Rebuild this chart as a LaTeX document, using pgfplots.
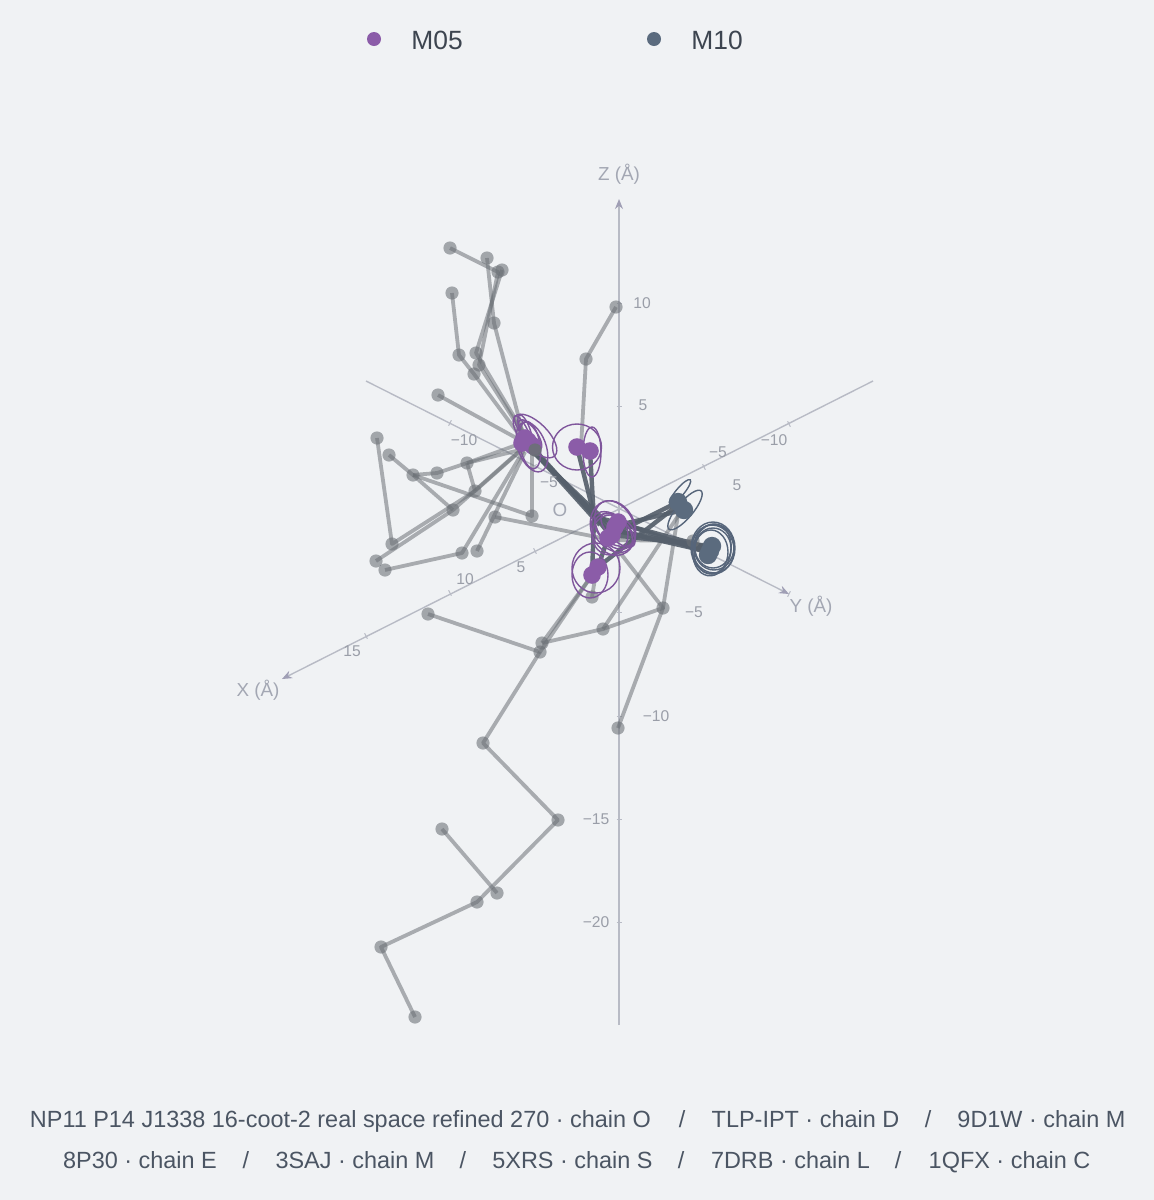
\documentclass[border=0pt]{standalone}
\usepackage{pgfplots}
\pgfplotsset{compat=1.18}
\usepackage{fontspec}
\setmainfont{Liberation Sans}
\usetikzlibrary{arrows.meta}
\definecolor{bg}{HTML}{F0F2F4}
\definecolor{pur}{HTML}{8B5CA8}
\definecolor{purl}{HTML}{7F569C}
\definecolor{blu}{HTML}{5B6B7E}
\definecolor{bll}{HTML}{56657A}
\definecolor{dk}{HTML}{56606C}
\definecolor{gr}{HTML}{6B7076}
\definecolor{axl}{HTML}{B8BBC5}
\definecolor{axt}{HTML}{A3A7B3}
\definecolor{tk}{HTML}{9A9EA8}
\definecolor{arr}{HTML}{A09FB5}
\definecolor{leg}{HTML}{3D4550}
\definecolor{bot}{HTML}{4B5563}
\pgfplotsset{
 gl/.style={no marks,color=gr,opacity=.54,line width=1.9pt,line join=round},
 dl/.style={no marks,color=dk,opacity=.92,line width=2.2pt,line join=round},
 axa/.style={no marks,color=axl,line width=.7pt,-{Stealth[length=5pt,width=4pt,color=arr]}},
 tick/.style={no marks,color=axl,line width=.5pt},
 ell/.style={only marks,scatter,mark=*,mark size=0pt,mark options={draw opacity=0,fill opacity=0},
  visualization depends on={\thisrow{a}\as\ea},
  visualization depends on={\thisrow{b}\as\eb},
  visualization depends on={\thisrow{t}\as\et},
  scatter/@pre marker code/.code={\pgfscope\pgfsetstrokeopacity{1}\pgfsetlinewidth{.7pt}\pgfsetstrokecolor{#1}%
   \pgfpathellipse{\pgfpointorigin}{\pgfpointpolar{\et}{\ea*0.5pt}}{\pgfpointpolar{\et+90}{\eb*0.5pt}}\pgfusepath{stroke}\endpgfscope},
  scatter/@post marker code/.code={}},
}
\newcommand{\tl}[3]{\node[inner sep=0pt,text=tk,font=\fontsize{7.8}{9}\selectfont] at (axis cs:#1,#2) {#3};}
\newcommand{\al}[3]{\node[inner sep=0pt,text=axt,font=\fontsize{9.4}{11}\selectfont] at (axis cs:#1,#2) {#3};}
\newcommand{\bt}[3]{\node[inner sep=0pt,anchor=base,text=bot,font=\fontsize{11.72}{13}\selectfont] at (axis cs:#1,#2) {#3};}
\begin{document}
\begin{tikzpicture}
\begin{axis}[scale only axis,width=577pt,height=600pt,xmin=0,xmax=1154,ymin=0,ymax=1200,y dir=reverse,
 axis line style={draw=none},ticks=none,axis background/.style={fill=bg}]
% axes
\addplot[axa] coordinates {(619,1025) (619,199)};
\addplot[axa] coordinates {(873,381) (282,679)};
\addplot[axa] coordinates {(366,381) (789,594)};
% ticks
\addplot[tick] coordinates {(616.5,303) (621.5,303)};
\addplot[tick] coordinates {(616.5,406) (621.5,406)};
\addplot[tick] coordinates {(616.5,612) (621.5,612)};
\addplot[tick] coordinates {(616.5,716) (621.5,716)};
\addplot[tick] coordinates {(616.5,819) (621.5,819)};
\addplot[tick] coordinates {(616.5,922) (621.5,922)};
\addplot[tick] coordinates {(364.6,633.3) (367.4,638.7)};
\addplot[tick] coordinates {(448.6,590.3) (451.4,595.7)};
\addplot[tick] coordinates {(533.6,548.3) (536.4,553.7)};
\addplot[tick] coordinates {(702.6,464.3) (705.4,469.7)};
\addplot[tick] coordinates {(787.6,421.3) (790.4,426.7)};
\addplot[tick] coordinates {(451.4,420.3) (448.6,425.7)};
\addplot[tick] coordinates {(536.4,464.3) (533.6,469.7)};
\addplot[tick] coordinates {(705.4,548.3) (702.6,553.7)};
\addplot[tick] coordinates {(790.4,591.3) (787.6,596.7)};
% grey chains
\addplot[gl] coordinates {(450,248) (498,272) (479,365) (527,440)};
\addplot[gl] coordinates {(487,258) (494,323) (522,430)};
\addplot[gl] coordinates {(502,270) (476,353) (525,435)};
\addplot[gl] coordinates {(452,293) (459,355) (474,374) (523,440)};
\addplot[gl] coordinates {(438,395) (520,440)};
\addplot[gl] coordinates {(616,307) (586,359) (581,447)};
\addplot[gl] coordinates {(377,438) (392,544) (475,491) (527,445)};
\addplot[gl] coordinates {(376,561) (453,510) (524,447)};
\addplot[gl] coordinates {(389,455) (413,475) (453,510)};
\addplot[gl] coordinates {(413,475) (532,516) (532,450)};
\addplot[gl] coordinates {(413,475) (437,473) (467,463) (522,443)};
\addplot[gl] coordinates {(467,463) (528,448)};
\addplot[gl] coordinates {(467,463) (475,491)};
\addplot[gl] coordinates {(385,570) (462,553) (524,450)};
\addplot[gl] coordinates {(477,551) (525,452)};
\addplot[gl] coordinates {(495,517) (612,540)};
\addplot[gl] coordinates {(428,614) (540,652) (592,575)};
\addplot[gl] coordinates {(592,597) (598,560)};
\addplot[gl] coordinates {(540,652) (483,743) (558,820) (477,902) (381,947) (415,1017)};
\addplot[gl] coordinates {(442,829) (497,893)};
\addplot[gl] coordinates {(542,643) (603,629) (663,608) (618,550)};
\addplot[gl] coordinates {(618,728) (663,608) (678,515)};
\addplot[gl] coordinates {(603,629) (680,513)};
\addplot[gl] coordinates {(612,540) (693,541)};
\addplot[gl] coordinates {(542,643) (596,570)};
% grey nodes
\addplot[only marks,mark=*,mark size=3.3pt,mark options={draw opacity=0,line width=0pt,fill=gr,fill opacity=.58}] coordinates {
(450,248) (487,258) (498,272) (502,270) (494,323) (452,293) (459,355) (476,353) (479,365) (474,374)
(438,395) (616,307) (586,359) (377,438) (392,544) (389,455) (413,475) (437,473) (467,463) (475,491)
(453,510) (532,516) (495,517) (462,553) (477,551) (376,561) (385,570) (428,614) (540,652) (542,643)
(603,629) (663,608) (592,597) (693,541) (483,743) (558,820) (497,893) (477,902) (442,829) (381,947)
(415,1017) (618,728)};
% dark bundles
\addplot[dl] coordinates {(535,450) (596,518)};
\addplot[dl] coordinates {(530,447) (610,530)};
\addplot[dl] coordinates {(533,452) (620,535)};
\addplot[dl] coordinates {(528,445) (600,525)};
\addplot[dl] coordinates {(577,447) (594,515) (610,535)};
\addplot[dl] coordinates {(590,451) (594,520) (592,575)};
\addplot[dl] coordinates {(596,517) (710,548)};
\addplot[dl] coordinates {(612,530) (710,548)};
\addplot[dl] coordinates {(618,522) (708,553)};
\addplot[dl] coordinates {(612,535) (710,546)};
\addplot[dl] coordinates {(605,528) (710,552)};
\addplot[dl] coordinates {(612,535) (678,502)};
\addplot[dl] coordinates {(618,525) (684,510)};
\addplot[dl] coordinates {(598,567) (678,505)};
\addplot[dl] coordinates {(608,538) (598,567)};
% purple ellipses
\addplot[ell=purl] table {
x y a b t
577 447 24.5 23 0
592 452 9 25 0
535 436 28 13 -45
532 447 26 14 -70
522 428 14 4 -60
525 430 16 5 -70
530 435 18 7 -55
530 445 24 10 -80
615 525 26 18 -60
612 532 24 16 -45
615 530 22 14 -30
610 535 18 20 0
613 528 28 22 -70
618 530 22 10 -45
596 568 24 25 0
590 575 18 23 0
};
% blue ellipses
\addplot[ell=bll] table {
x y a b t
680 492 16 4 50
685 510 25 8 50
713 548 22 26 0
714 547 20 23 0
713 549 21 24 10
712 550 19 26 -10
713 548 18 20 0
711 552 17 22 0
};
% node clusters
\addplot[only marks,mark=*,mark size=4.4pt,mark options={draw opacity=0,line width=0pt,fill=pur}] coordinates {
(522,443) (528,441) (533,446) (525,438) (577,447) (590,451) (618,522) (615,527) (612,535) (608,538) (592,575) (598,567)};
\addplot[only marks,mark=*,mark size=4.6pt,mark options={draw opacity=0,line width=0pt,fill=blu}] coordinates {
(678,502) (684,510) (712,546) (710,551) (708,555)};
\addplot[only marks,mark=*,mark size=3.3pt,mark options={draw opacity=0,line width=0pt,fill=gr,fill opacity=.9}] coordinates {(535,450)};
% legend
\addplot[only marks,mark=*,mark size=3.5pt,mark options={draw opacity=0,line width=0pt,fill=pur}] coordinates {(374,39)};
\addplot[only marks,mark=*,mark size=3.5pt,mark options={draw opacity=0,line width=0pt,fill=blu}] coordinates {(654,39)};
\node[inner sep=0pt,anchor=west,text=leg,font=\fontsize{13.2}{15}\selectfont] at (axis cs:411,40) {M05};
\node[inner sep=0pt,anchor=west,text=leg,font=\fontsize{13.2}{15}\selectfont] at (axis cs:691,40) {M10};
% axis names
\al{619}{174}{Z (Å)}
\al{811}{606}{Y (Å)}
\al{258}{690}{X (Å)}
\al{560}{510}{O}
% tick labels
\tl{642}{303}{10}
\tl{643}{405}{5}
\tl{694}{612}{−5}
\tl{656}{716}{−10}
\tl{596}{819}{−15}
\tl{596}{922}{−20}
\tl{352}{651}{15}
\tl{465}{579}{10}
\tl{521}{567}{5}
\tl{718}{452}{−5}
\tl{774}{440}{−10}
\tl{464}{440}{−10}
\tl{549}{482}{−5}
\tl{737}{485}{5}
% footer
\bt{340.5}{1127}{NP11 P14 J1338 16-coot-2 real space refined 270 · chain O}
\bt{682}{1127}{/}
\bt{805.5}{1127}{TLP-IPT · chain D}
\bt{928}{1127}{/}
\bt{1041.5}{1127}{9D1W · chain M}
\bt{140}{1168}{8P30 · chain E}
\bt{246}{1168}{/}
\bt{355}{1168}{3SAJ · chain M}
\bt{463}{1168}{/}
\bt{572.5}{1168}{5XRS · chain S}
\bt{681}{1168}{/}
\bt{790.5}{1168}{7DRB · chain L}
\bt{898}{1168}{/}
\bt{1009.5}{1168}{1QFX · chain C}
\end{axis}
\end{tikzpicture}
\end{document}
